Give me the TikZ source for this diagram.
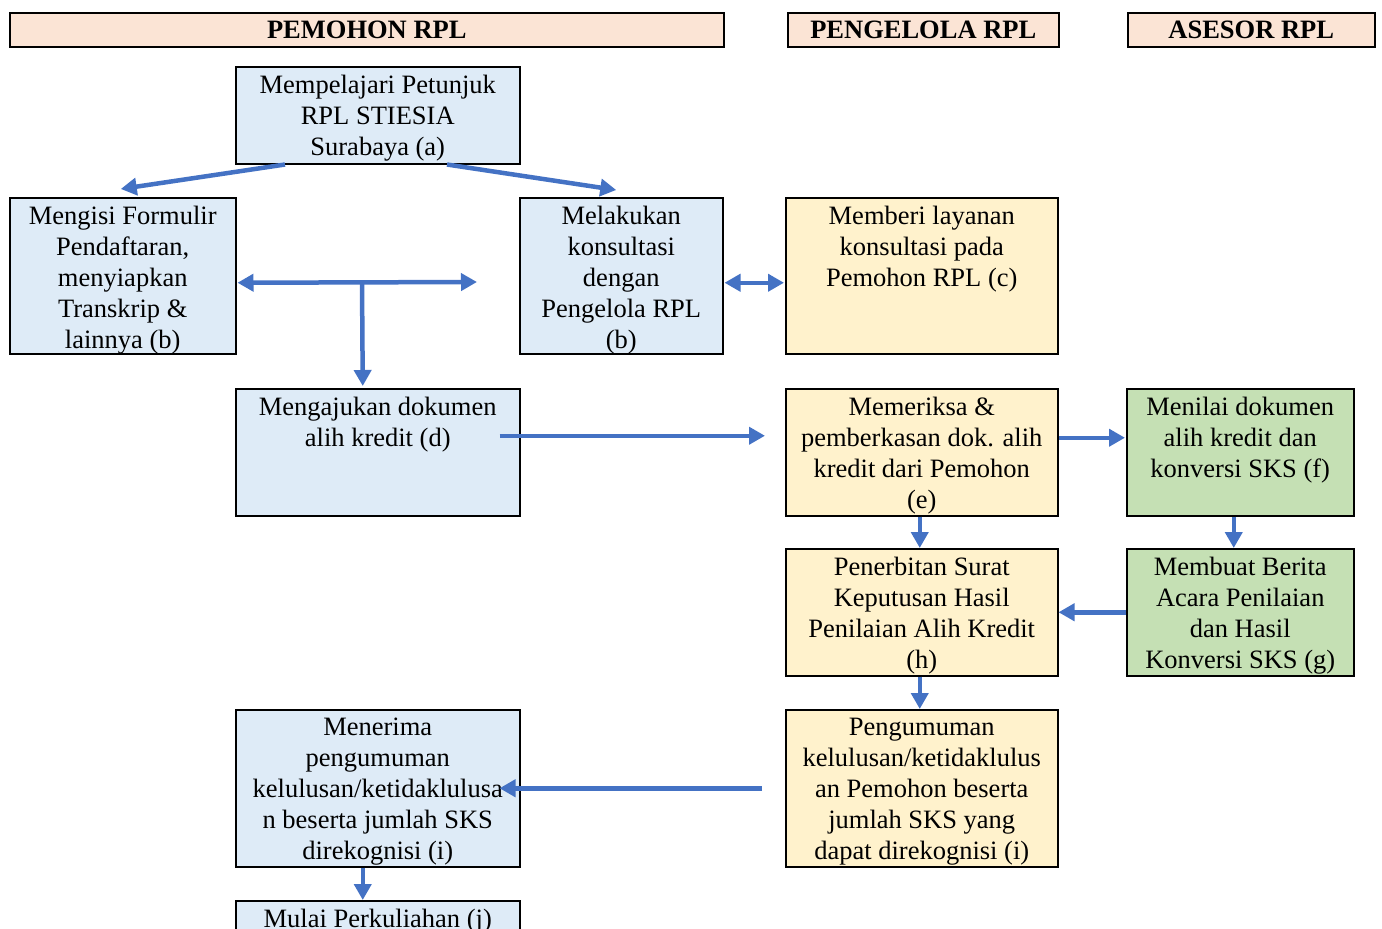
\documentclass[tikz,border=0pt]{standalone}
\usepackage{fontspec}
\setmainfont{Liberation Serif}
\usetikzlibrary{arrows.meta,calc}
\definecolor{hdrfill}{HTML}{FBE4D5}
\definecolor{bluefill}{HTML}{DEEBF7}
\definecolor{yelfill}{HTML}{FFF2CC}
\definecolor{grnfill}{HTML}{C5E0B4}
\definecolor{arrblue}{HTML}{4472C4}
\begin{document}
\begin{tikzpicture}[x=1pt,y=-1pt,
hdr/.style={draw, line width=1.5pt, fill=hdrfill, anchor=north west, inner sep=0pt, font=\bfseries\fontsize{26.5}{31}\selectfont},
box/.style={draw, line width=1.5pt, anchor=north west, inner sep=0pt},
txt/.style={anchor=north, align=center, inner sep=0pt, font=\fontsize{26.5}{31}\selectfont},
arr/.style={draw=arrblue, line width=4.5pt, -{Triangle[length=16pt,width=17pt]}},
darr/.style={arr, {Triangle[length=16pt,width=17pt]}-{Triangle[length=16pt,width=17pt]}}]
\useasboundingbox (0,0) rectangle (1382,929);
\node[hdr, minimum width=714pt, minimum height=34pt] (hpem) at (9,12){PEMOHON RPL};
\node[hdr, minimum width=271pt, minimum height=34pt] (hpen) at (787,12){PENGELOLA RPL};
\node[hdr, minimum width=247pt, minimum height=34pt] (hase) at (1127,12){ASESOR RPL};
\node[box, fill=bluefill, minimum width=284pt, minimum height=97pt] (pa) at (235,66){};
\node[txt] (ta) at ($(pa.north)+(0,9)$){Mempelajari Petunjuk\\RPL STIESIA\\Surabaya (a)};
\node[box, fill=bluefill, minimum width=226pt, minimum height=156pt] (pb1) at (9,197){};
\node[txt] (tb1) at ($(pb1.north)+(0,9)$){Mengisi Formulir\\Pendaftaran,\\menyiapkan\\Transkrip \&\\lainnya (b)};
\node[box, fill=bluefill, minimum width=203pt, minimum height=156pt] (pb2) at (519,197){};
\node[txt] (tb2) at ($(pb2.north)+(0,9)$){Melakukan\\konsultasi\\dengan\\Pengelola RPL\\(b)};
\node[box, fill=yelfill, minimum width=272pt, minimum height=156pt] (pc) at (785,197){};
\node[txt] (tc) at ($(pc.north)+(0,9)$){Memberi layanan\\konsultasi pada\\Pemohon RPL (c)};
\node[box, fill=bluefill, minimum width=284pt, minimum height=127pt] (pd) at (235,388){};
\node[txt] (td) at ($(pd.north)+(0,9)$){Mengajukan dokumen\\alih kredit (d)};
\node[box, fill=yelfill, minimum width=272pt, minimum height=127pt] (pe) at (785,388){};
\node[txt] (te) at ($(pe.north)+(0,9)$){Memeriksa \&\\pemberkasan dok. alih\\kredit dari Pemohon\\(e)};
\node[box, fill=grnfill, minimum width=227pt, minimum height=127pt] (pf) at (1126,388){};
\node[txt] (tf) at ($(pf.north)+(0,9)$){Menilai dokumen\\alih kredit dan\\konversi SKS (f)};
\node[box, fill=yelfill, minimum width=272pt, minimum height=127pt] (ph) at (785,548){};
\node[txt] (th) at ($(ph.north)+(0,9)$){Penerbitan Surat\\Keputusan Hasil\\Penilaian Alih Kredit\\(h)};
\node[box, fill=grnfill, minimum width=227pt, minimum height=127pt] (pg) at (1126,548){};
\node[txt] (tg) at ($(pg.north)+(0,9)$){Membuat Berita\\Acara Penilaian\\dan Hasil\\Konversi SKS (g)};
\node[box, fill=bluefill, minimum width=284pt, minimum height=157pt] (pi1) at (235,709){};
\node[txt] (ti1) at ($(pi1.north)+(0,9)$){Menerima\\pengumuman\\kelulusan/ketidaklulusa\\n beserta jumlah SKS\\direkognisi (i)};
\node[box, fill=yelfill, minimum width=272pt, minimum height=157pt] (pi2) at (785,709){};
\node[txt] (ti2) at ($(pi2.north)+(0,9)$){Pengumuman\\kelulusan/ketidaklulus\\an Pemohon beserta\\jumlah SKS yang\\dapat direkognisi (i)};
\node[box, fill=bluefill, minimum width=284pt, minimum height=60pt] (pj) at (235,900){};
\node[txt] (tj) at ($(pj.north)+(0,9)$){Mulai Perkuliahan (j)};
\coordinate (cab) at (477,282);
\coordinate (cst) at (362,282);
\draw[arr] ($(pa.south west)+(50,0)$) -- ($(pb1.north)+(-2,-8)$);
\draw[arr] ($(pa.south west)+(212,0)$) -- ($(pb2.north)+(-5,-7)$);
\draw[darr] ($(pb1.east)+(1,7)$) -- (cab);
\draw[arr] (cst) -- ($(pd.north)+(-15,-2)$);
\draw[darr] ($(pb2.east)+(1,7)$) -- ($(pc.west)+(-1,7)$);
\draw[arr] ($(pd.east)+(-21,-16.5)$) -- ($(pe.west)+(-20,-16.5)$);
\draw[arr] ($(pe.east)+(0,-14.5)$) -- ($(pf.west)+(-1,-14.5)$);
\draw[arr] ($(pe.south)+(-2,0)$) -- ($(ph.north)+(-2,0)$);
\draw[arr] ($(pf.south)+(-6.5,0)$) -- ($(pg.north)+(-6.5,0)$);
\draw[arr] (pg.west) -- (ph.east);
\draw[arr] ($(ph.south)+(-2,0)$) -- ($(pi2.north)+(-2,0)$);
\draw[arr] ($(pi2.west)+(-23,0)$) -- ($(pi1.east)+(-21,0)$);
\draw[arr] ($(pi1.south)+(-15,0)$) -- ($(pj.north)+(-15,0)$);
\end{tikzpicture}
\end{document}
